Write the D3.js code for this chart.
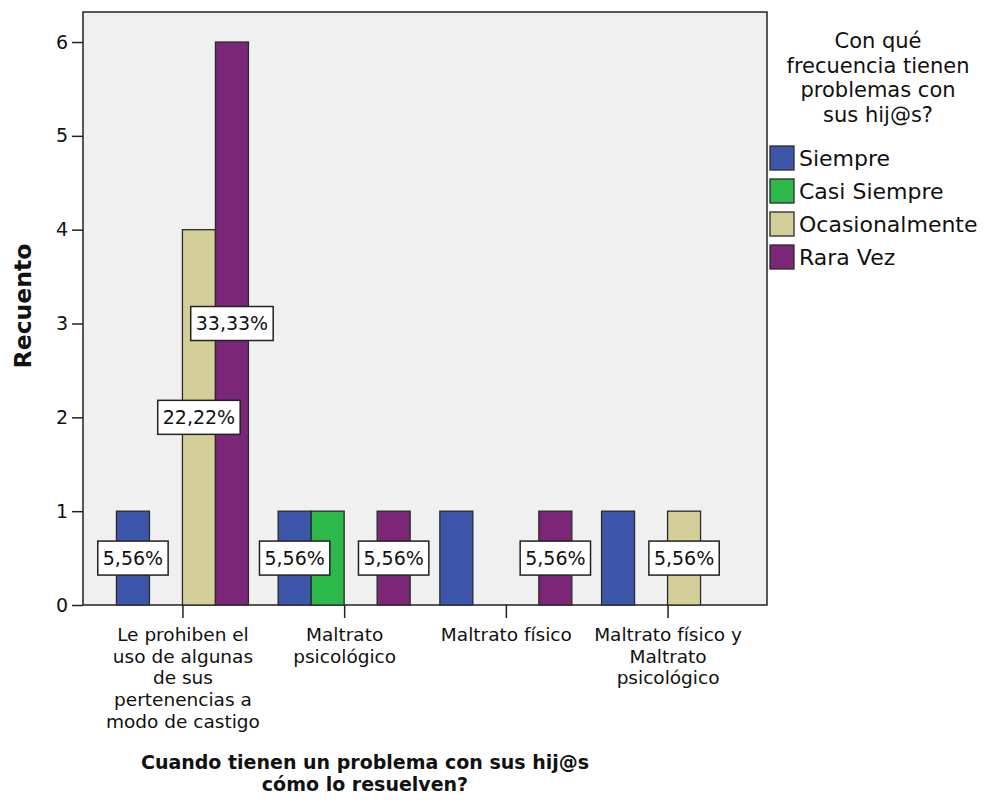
<!DOCTYPE html>
<html>
<head>
<meta charset="utf-8">
<script src="https://cdn.jsdelivr.net/npm/d3@7"></script>
<style>
  body { margin: 0; background: #fff; }
  text { font-family: "DejaVu Sans", Verdana, sans-serif; fill: #111; }
</style>
</head>
<body>
<div id="chartMain"></div>
<script>
// Datos
const categories = [
    ["Le prohiben el", "uso de algunas", "de sus", "pertenencias a", "modo de castigo"],
    ["Maltrato", "psicológico"],
    ["Maltrato físico"],
    ["Maltrato físico y", "Maltrato", "psicológico"]
];
const series = ["Siempre", "Casi Siempre", "Ocasionalmente", "Rara Vez"];
const colors = ["#3d56a9", "#2db84b", "#d4cf98", "#7b2677"];

const siempre        = [1, 1, 1, 1];
const casiSiempre    = [0, 1, 0, 0];
const ocasionalmente = [4, 0, 0, 1];
const raraVez        = [6, 1, 1, 0];

// which bars carry a percentage label (as in the original)
const labeled = [
    ["Siempre", "Ocasionalmente", "Rara Vez"],
    ["Siempre", "Rara Vez"],
    ["Rara Vez"],
    ["Ocasionalmente"]
];

const yTicks = [0, 1, 2, 3, 4, 5, 6];
const legendTitle = ["Con qué", "frecuencia tienen", "problemas con", "sus hij@s?"];
const xTitle = ["Cuando tienen un problema con sus hij@s", "cómo lo resuelven?"];
const yTitle = "Recuento";

const values = [siempre, casiSiempre, ocasionalmente, raraVez];
const total = d3.sum(values.flat());

const rows = [];
categories.forEach((c, i) => {
    series.forEach((s, j) => {
        rows.push({ cat: i, serie: s, color: colors[j], value: values[j][i],
                    label: labeled[i].includes(s) });
    });
});

// Dimensiones
const W = 984, H = 803;
const plot = { left: 83, right: 767, top: 12, bottom: 605 };

const svg = d3.select('#chartMain')
    .append('svg')
    .attr('width', W)
    .attr('height', H);

const x0 = d3.scalePoint()
    .domain(d3.range(categories.length))
    .range([plot.left, plot.right])
    .padding(0.615);

const x1 = d3.scaleBand()
    .domain(series)
    .range([-66, 66]);

const y = d3.scaleLinear()
    .domain([0, 6.32])
    .range([plot.bottom, plot.top]);

// fondo del área
svg.append('rect')
    .attr('x', plot.left)
    .attr('y', plot.top)
    .attr('width', plot.right - plot.left)
    .attr('height', plot.bottom - plot.top)
    .attr('fill', '#f0f0f0')
    .attr('stroke', '#222')
    .attr('stroke-width', 1.5);

// barras
svg.append('g')
    .selectAll('rect')
    .data(rows.filter(d => d.value > 0))
    .join('rect')
    .attr('x', d => x0(d.cat) + x1(d.serie))
    .attr('y', d => y(d.value))
    .attr('width', x1.bandwidth())
    .attr('height', d => y(0) - y(d.value))
    .attr('fill', d => d.color)
    .attr('stroke', '#2a2a2a')
    .attr('stroke-width', 1.3);

// eje Y
const yAxis = svg.append('g')
    .attr('transform', `translate(${plot.left},0)`)
    .call(d3.axisLeft(y).tickValues(yTicks).tickSize(11).tickPadding(4).tickFormat(d3.format('d')));
yAxis.select('.domain').remove();
yAxis.selectAll('line').attr('stroke', '#222').attr('stroke-width', 1.5);
yAxis.selectAll('text').style('font-size', '19px').attr('fill', '#111').attr('font-family', null);

// eje X
const xAxis = svg.append('g')
    .attr('transform', `translate(0,${plot.bottom})`)
    .call(d3.axisBottom(x0).tickSize(13).tickFormat(''));
xAxis.select('.domain').remove();
xAxis.selectAll('line').attr('stroke', '#222').attr('stroke-width', 1.5);

xAxis.selectAll('.tick')
    .append('text')
    .attr('text-anchor', 'middle')
    .style('font-size', '18.5px')
    .selectAll('tspan')
    .data(d => categories[d])
    .join('tspan')
    .attr('x', 0)
    .attr('y', (d, i) => 36 + i * 21.7)
    .text(d => d);

// etiquetas de porcentaje
const fmt = v => (v / total * 100).toFixed(2).replace('.', ',') + '%';
const lab = svg.append('g')
    .selectAll('g')
    .data(rows.filter(d => d.label))
    .join('g')
    .attr('transform', d => `translate(${x0(d.cat) + x1(d.serie) + x1.bandwidth() / 2},${y(d.value / 2)})`);

lab.append('rect')
    .attr('fill', '#fff')
    .attr('stroke', '#222')
    .attr('stroke-width', 1.5);
lab.append('text')
    .attr('text-anchor', 'middle')
    .attr('dy', '0.36em')
    .style('font-size', '19px')
    .text(d => fmt(d.value));
lab.each(function () {
    const g = d3.select(this);
    const w = g.select('text').node().getComputedTextLength();
    g.select('rect')
        .attr('x', -w / 2 - 5)
        .attr('y', -17)
        .attr('width', w + 10)
        .attr('height', 34);
});

// títulos de ejes
svg.append('text')
    .attr('transform', 'translate(31,306) rotate(-90)')
    .attr('text-anchor', 'middle')
    .style('font-size', '23.5px')
    .style('font-weight', 'bold')
    .text(yTitle);

svg.append('text')
    .attr('text-anchor', 'middle')
    .style('font-size', '19px')
    .style('font-weight', 'bold')
    .selectAll('tspan')
    .data(xTitle)
    .join('tspan')
    .attr('x', 365)
    .attr('y', (d, i) => 769 + i * 22.3)
    .text(d => d);

// leyenda
svg.append('text')
    .attr('text-anchor', 'middle')
    .style('font-size', '21px')
    .selectAll('tspan')
    .data(legendTitle)
    .join('tspan')
    .attr('x', 878)
    .attr('y', (d, i) => 48 + i * 24.6)
    .text(d => d);

const leg = svg.append('g')
    .selectAll('g')
    .data(series)
    .join('g')
    .attr('transform', (d, i) => `translate(770,${146 + i * 33})`);
leg.append('rect')
    .attr('width', 24)
    .attr('height', 24)
    .attr('fill', (d, i) => colors[i])
    .attr('stroke', '#2a2a2a')
    .attr('stroke-width', 1.3);
leg.append('text')
    .attr('x', 29)
    .attr('y', 12)
    .attr('dy', '0.36em')
    .style('font-size', '22px')
    .text(d => d);
</script>
</body>
</html>
